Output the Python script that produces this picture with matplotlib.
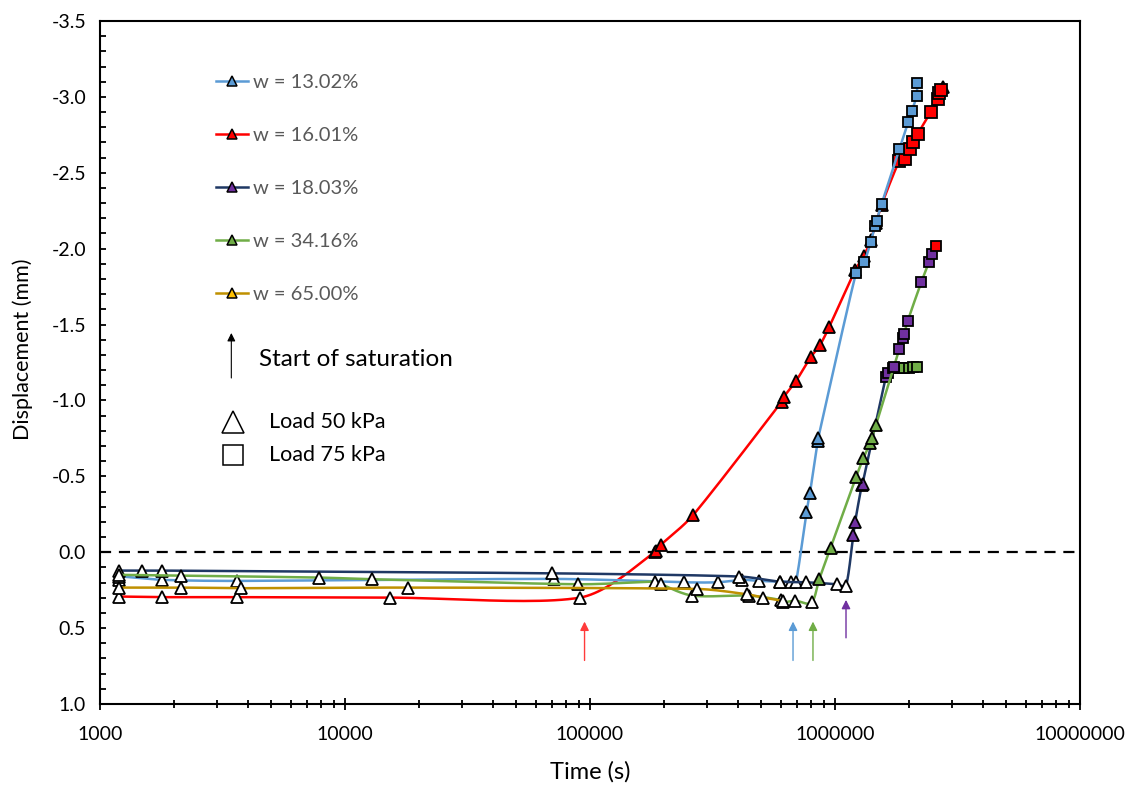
import numpy as np
import matplotlib
matplotlib.use("Agg")
import matplotlib.pyplot as plt
from matplotlib.ticker import MultipleLocator, FixedLocator, FuncFormatter, LogLocator
from matplotlib.lines import Line2D

plt.rcParams['font.family'] = ['Lato', 'DejaVu Sans']
plt.rcParams['axes.unicode_minus'] = False

# ---------------- data (time in s, displacement in mm) ----------------
# w = 13.02 %
b_t_white = [1200, 1200, 1795, 3630, 71300, 242600, 332000, 416000, 491000, 597000, 659000, 693000]
b_d_white = [0.182, 0.16, 0.182, 0.189, 0.176, 0.198, 0.198, 0.182, 0.189, 0.194, 0.194, 0.194]
b_t_col = [765000, 790000, 850000, 855000]
b_d_col = [-0.263, -0.389, -0.73, -0.755]
b_t_sq = [1218000, 1313000, 1400000, 1455000, 1478000, 1550000, 1830000, 1991000, 2055000, 2155000, 2160000]
b_d_sq = [-1.838, -1.91, -2.046, -2.15, -2.185, -2.294, -2.655, -2.835, -2.907, -3.006, -3.092]

# w = 16.01 %
r_t_white = [1200, 1795, 3630, 15200, 91000]
r_d_white = [0.292, 0.296, 0.296, 0.299, 0.299]
r_t_col = [184000, 186000, 195000, 264000, 606000, 619000, 693000, 796000, 869000, 948000,
           1210000, 1310000, 1400000, 1470000, 1550000]
r_d_col = [0.0, -0.01, -0.05, -0.246, -0.992, -1.025, -1.128, -1.285, -1.366, -1.486,
           -1.86, -1.95, -2.06, -2.17, -2.29]
r_t_sq = [1830000, 1931000, 2023000, 2088000, 2175000, 2457000, 2624000, 2656000, 2700000]
r_d_sq = [-2.578, -2.591, -2.655, -2.705, -2.756, -2.899, -2.984, -3.028, -3.045]
r_t_end = [2750000]
r_d_end = [-3.067]

# w = 18.03 %
n_t_white = [1200, 1490, 1795, 69770, 406000, 597000, 759000, 1016000, 1109000]
n_d_white = [0.121, 0.121, 0.121, 0.139, 0.16, 0.194, 0.198, 0.211, 0.22]
n_t_col = [1188000, 1208000, 1286000, 1295000]
n_d_col = [-0.114, -0.20, -0.443, -0.45]
n_t_sq = [1614000, 1646000, 1730000, 1790000, 1850000, 1920000, 2000000, 2080000, 2167000]
n_d_sq = [-1.157, -1.18, -1.216, -1.216, -1.216, -1.216, -1.216, -1.22, -1.222]
n_sq_face = ['#7030A0', '#7030A0', '#70AD47', '#70AD47', '#70AD47', '#70AD47', '#70AD47', '#70AD47', '#70AD47']

# w = 34.16 %
g_t_white = [1200, 2140, 7830, 12900, 89500, 184000, 195000, 262000, 445000, 600000, 611000, 687000, 802000]
g_d_white = [0.149, 0.154, 0.167, 0.178, 0.211, 0.194, 0.211, 0.286, 0.286, 0.315, 0.331, 0.319, 0.331]
g_t_col = [863000, 960000, 1218000, 1305000, 1391000, 1412000, 1470000]
g_d_col = [0.176, -0.03, -0.494, -0.619, -0.718, -0.75, -0.839]
g_t_sq = [1740000, 1830000, 1893000, 1915000, 1983000, 2250000, 2420000, 2480000, 2575000]
g_d_sq = [-1.222, -1.339, -1.414, -1.438, -1.526, -1.779, -1.912, -1.963, -2.02]
g_sq_face = ['#7030A0'] * 8 + ['#FF0000']

# w = 65.00 %
y_t_white = [1200, 2140, 3770, 18060, 274000, 436000, 510000, 611000]
y_d_white = [0.233, 0.233, 0.237, 0.233, 0.242, 0.277, 0.299, 0.32]

# start of saturation
sat_times = [95000, 674000, 813000, 1109000]
sat_colors = ['#FF3B3B', '#5B9BD5', '#70AD47', '#7030A0']
sat_tip = [0.457, 0.457, 0.457, 0.314]
sat_tail = [0.713, 0.713, 0.713, 0.564]

labels = ['w = 13.02%', 'w = 16.01%', 'w = 18.03%', 'w = 34.16%', 'w = 65.00%']
line_colors = ['#5B9BD5', '#FF0000', '#1F3864', '#70AD47', '#BF9000']
legend_fill = ['#5B9BD5', '#FF0000', '#7030A0', '#70AD47', '#FFC000']

# ---------------- helpers ----------------
SX, SY = 245.0, 151.8  # approx pixel scales used for smoothing


def smooth(t, d, n=24):
    """Excel-like smoothed line: cubic Bezier with control points at 1/6 of neighbour chord,
    limited so a control point never reaches past a third of its own segment."""
    u = np.log10(np.asarray(t, float)) * SX
    v = np.asarray(d, float) * SY
    P = np.column_stack([u, v])
    if len(P) < 3:
        return np.asarray(t, float), np.asarray(d, float)
    Q = np.vstack([P[0], P, P[-1]])
    out = []
    s = np.linspace(0, 1, n, endpoint=False)[:, None]
    for i in range(1, len(Q) - 2):
        p0, p1, p2, p3 = Q[i - 1], Q[i], Q[i + 1], Q[i + 2]
        seg_len = np.linalg.norm(p2 - p1)
        d1 = (p2 - p0) / 6.0
        d2 = (p3 - p1) / 6.0
        for dv in (d1, d2):
            ln = np.linalg.norm(dv)
            lim = seg_len / 3.0
            if ln > lim and ln > 0:
                dv *= lim / ln
        c1 = p1 + d1
        c2 = p2 - d2
        seg = (1 - s) ** 3 * p1 + 3 * (1 - s) ** 2 * s * c1 + 3 * (1 - s) * s ** 2 * c2 + s ** 3 * p2
        out.append(seg)
    out.append(P[-1][None, :])
    out = np.vstack(out)
    return 10 ** (out[:, 0] / SX), out[:, 1] / SY


def line_pts(*pairs):
    t = []
    d = []
    for tt, dd in pairs:
        t += list(tt)
        d += list(dd)
    order = np.argsort(np.array(t), kind='stable')
    return np.array(t)[order], np.array(d)[order]


# ---------------- figure ----------------
fig = plt.figure(figsize=(11.36, 7.85), dpi=100)
ax = fig.add_axes([100 / 1136, 1 - 704 / 785, 980 / 1136, 683 / 785])

TRI = dict(marker='^', ms=8.5, mec='black', mew=1.3, ls='none')

series = {
    0: (b_t_white, b_d_white, b_t_col, b_d_col, b_t_sq, b_d_sq, ['#5B9BD5'] * len(b_t_sq), 7),
    1: (r_t_white, r_d_white, r_t_col + r_t_end, r_d_col + r_d_end, r_t_sq, r_d_sq, ['#FF0000'] * len(r_t_sq), 9),
    2: (n_t_white, n_d_white, n_t_col, n_d_col, n_t_sq, n_d_sq, n_sq_face, 7),
    3: (g_t_white, g_d_white, g_t_col, g_d_col, g_t_sq, g_d_sq, g_sq_face, 7),
    4: (y_t_white, y_d_white, [], [], [], [], [], 7),
}
col_tri_fill = ['#5B9BD5', '#FF0000', '#7030A0', '#70AD47', '#FFC000']
draw_order = [1, 0, 2, 3, 4]

for rank, k in enumerate(draw_order):
    tw, dw, tc, dc, ts, ds, sqf, sqms = series[k]
    z = 3 + rank * 3
    lt, ld = line_pts((tw, dw), (tc, dc), (ts, ds))
    st, sd = smooth(lt, ld)
    ax.plot(st, sd, color=line_colors[k], lw=1.8, zorder=z, solid_capstyle='round')
    ax.plot(tw, dw, mfc='white', zorder=z + 1, **TRI)
    if tc:
        ax.plot(tc, dc, mfc=col_tri_fill[k], zorder=z + 1, **TRI)
    for tt, dd, fc in zip(ts, ds, sqf):
        ax.plot([tt], [dd], marker='s', ms=sqms, mec='black', mew=1.3, mfc=fc, ls='none', zorder=z + 2)

ax.axhline(0.0, color='black', lw=1.6, ls=(0, (5, 3.5)), zorder=2)

for t, c, tip, tail in zip(sat_times, sat_colors, sat_tip, sat_tail):
    ax.annotate('', xy=(t, tip), xytext=(t, tail),
                arrowprops=dict(arrowstyle='-|>', color=c, lw=1.0, mutation_scale=13,
                                shrinkA=0, shrinkB=0), zorder=20)

# axes
ax.set_xscale('log')
ax.set_xlim(1000, 1e7)
ax.set_ylim(1.0, -3.5)
ax.xaxis.set_major_locator(FixedLocator([1e3, 1e4, 1e5, 1e6, 1e7]))
ax.xaxis.set_minor_locator(LogLocator(base=10, subs=np.arange(2, 10), numticks=20))
ax.xaxis.set_major_formatter(FuncFormatter(lambda v, p: f"{int(round(v))}"))
ax.xaxis.set_minor_formatter(FuncFormatter(lambda v, p: ""))
ax.yaxis.set_major_locator(MultipleLocator(0.5))
ax.yaxis.set_minor_locator(MultipleLocator(0.1))
ax.yaxis.set_major_formatter(FuncFormatter(lambda v, p: f"{v:.1f}"))
ax.tick_params(axis='x', which='major', direction='inout', length=8, width=1.3, labelsize=14, pad=12)
ax.tick_params(axis='x', which='minor', direction='inout', length=6, width=1.3)
ax.tick_params(axis='y', which='major', direction='in', length=4, width=1.3, labelsize=14, pad=10)
ax.tick_params(axis='y', which='minor', direction='in', length=4, width=1.3)
for s in ax.spines.values():
    s.set_linewidth(1.5)
ax.set_xlabel('Time (s)', fontsize=17)
ax.xaxis.set_label_coords(0.5, -0.0835)
ax.set_ylabel('Displacement (mm)', fontsize=15.5)
ax.yaxis.set_label_coords(-0.0684, 0.52)

# legend
handles = [Line2D([0], [0], color=line_colors[i], lw=1.8, marker='^', ms=7, mfc=legend_fill[i],
                  mec='black', mew=1.1) for i in range(5)]
leg = ax.legend(handles, labels, loc='upper left', bbox_to_anchor=(0.1184, 0.922), frameon=False,
                fontsize=14.5, labelspacing=1.78, handlelength=1.6, handletextpad=0.25,
                borderpad=0, borderaxespad=0, labelcolor='#595959')

ax.annotate('', xy=(0.134, 0.5432), xytext=(0.134, 0.4773), xycoords='axes fraction',
            arrowprops=dict(arrowstyle='-|>', color='black', lw=0.8, mutation_scale=12,
                            shrinkA=0, shrinkB=0))
ax.text(0.1622, 0.5037, 'Start of saturation', transform=ax.transAxes, fontsize=17.5,
        va='center', ha='left', color='black')
ax.plot([0.1357], [0.4129], marker='^', ms=16, mfc='white', mec='black', mew=1.1,
        transform=ax.transAxes, ls='none', clip_on=False)
ax.plot([0.1357], [0.3646], marker='s', ms=14, mfc='white', mec='black', mew=1.1,
        transform=ax.transAxes, ls='none', clip_on=False)
ax.text(0.1724, 0.4129, 'Load 50 kPa', transform=ax.transAxes, fontsize=15.5, va='center', ha='left')
ax.text(0.1724, 0.3646, 'Load 75 kPa', transform=ax.transAxes, fontsize=15.5, va='center', ha='left')

fig.savefig('out.png', dpi=100)
